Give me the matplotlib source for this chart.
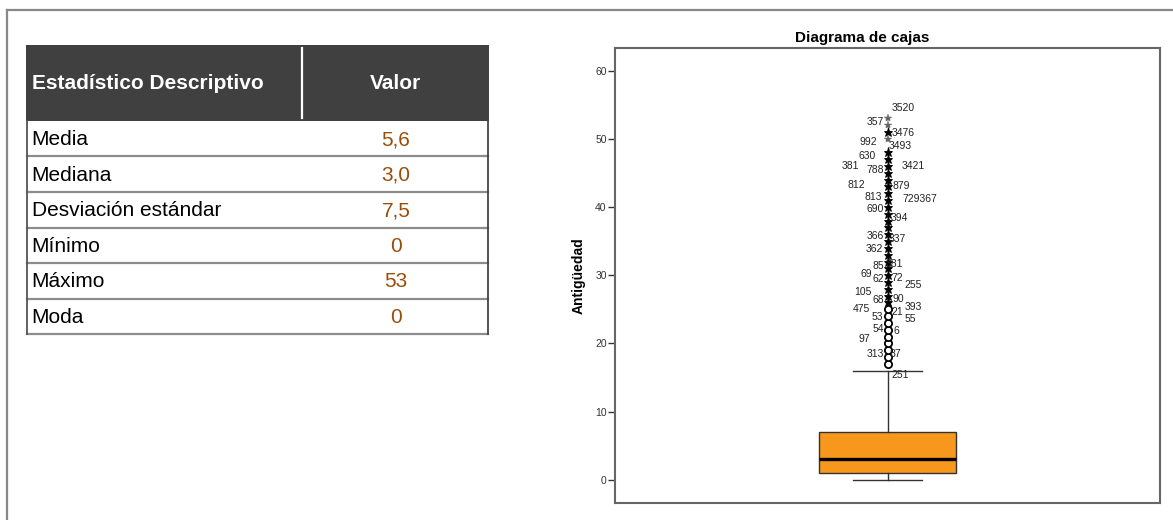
import matplotlib.pyplot as plt

plt.rcParams['font.family'] = ['Liberation Sans', 'DejaVu Sans']

# --- descriptive statistics table ---
header = ["Estadístico Descriptivo", "Valor"]
stat_names = ["Media", "Mediana", "Desviación estándar", "Mínimo", "Máximo", "Moda"]
stat_values = ["5,6", "3,0", "7,5", "0", "53", "0"]

# --- box plot of Antigüedad ---
q1, median, q3 = 1, 3, 7
whisker_low, whisker_high = 0, 16
circle_outliers = [17, 18, 19, 20, 21, 22, 23, 24, 25]
star_outliers = [26, 27, 28, 29, 30, 31, 32, 33, 34, 35, 36, 37, 38, 39, 40,
                 41, 42, 43, 44, 45, 46, 47, 48, 51]
faint_star_outliers = [50, 52, 53]

# case labels next to outliers: text, y value, horizontal offset (pixels)
case_labels = ["3520", "357", "3476", "992", "3493", "630", "381", "788", "3421",
               "812", "879", "813", "729367", "690", "394", "366", "337", "362",
               "85", "381", "69", "62", "72", "255", "105", "68", "90", "393",
               "475", "53", "21", "55", "54", "6", "97", "313", "87", "251"]
case_label_y = [54.5, 52.5, 50.9, 49.5, 49.0, 47.4, 46.0, 45.4, 46.0,
                43.2, 43.0, 41.5, 41.1, 39.7, 38.4, 35.7, 35.3, 33.8,
                31.4, 31.6, 30.1, 29.4, 29.6, 28.6, 27.5, 26.4, 26.5, 25.4,
                25.0, 23.9, 24.6, 23.5, 22.1, 21.8, 20.6, 18.4, 18.4, 15.4]
case_label_dx = [4, -21, 4, -28, 1, -29, -46, -21, 14,
                 -40, 5, -23, 15, -21, 3, -21, 1, -22,
                 -15, -2, -27, -15, 4, 17, -33, -15, 5, 17,
                 -35, -16, 4, 17, -15, 6, -29, -21, 2, 4]

W, H = 1173, 520
fig = plt.figure(figsize=(W / 100, H / 100), dpi=100)

# background canvas in pixel coordinates (frame + table)
bg = fig.add_axes([0, 0, 1, 1])
bg.set_xlim(0, W)
bg.set_ylim(H, 0)
bg.axis("off")

# outer frame
bg.plot([7, W], [10, 10], color="#888888", lw=1.6)
bg.plot([7, 7], [10, H], color="#888888", lw=1.6)

# table geometry
tx0, tx1, tdiv = 26, 489, 302
head_top, head_bot = 45, 120.7
row_h = 35.6

bg.add_patch(plt.Rectangle((tx0, head_top), tx1 - tx0, head_bot - head_top,
                           facecolor="#404040", edgecolor="none"))
bg.plot([tdiv, tdiv], [48, 118], color="white", lw=1.6)
bg.text(31.5, (head_top + head_bot) / 2 + 1, header[0], color="white",
        fontsize=15, fontweight="bold", ha="left", va="center")
bg.text((tdiv + tx1) / 2, (head_top + head_bot) / 2 + 1, header[1], color="white",
        fontsize=15, fontweight="bold", ha="center", va="center")

for i, (name, val) in enumerate(zip(stat_names, stat_values)):
    top = head_bot + i * row_h
    bot = top + row_h
    bg.plot([tx0 + 1, tx1 - 1], [bot, bot], color="#8c8c8c", lw=1.6)
    bg.text(31.5, (top + bot) / 2 + 1, name, color="black", fontsize=15,
            ha="left", va="center")
    bg.text(396, (top + bot) / 2 + 1, val, color="#9a4d0b", fontsize=15,
            ha="center", va="center")

table_bot = head_bot + len(stat_names) * row_h
bg.plot([tx0 + 1, tx0 + 1], [head_bot, table_bot], color="#555555", lw=1.3)
bg.plot([tx1 - 1, tx1 - 1], [head_bot, table_bot], color="#444444", lw=1.3)

# box plot axes
ax = fig.add_axes([615 / W, 1 - 503 / H, 545 / W, 455 / H])
stats = [dict(med=median, q1=q1, q3=q3, whislo=whisker_low,
              whishi=whisker_high, fliers=[])]
ax.bxp(stats, positions=[1], widths=0.25, capwidths=0.127, showfliers=False,
       patch_artist=True,
       boxprops=dict(facecolor="#F7981D", edgecolor="#333333", lw=1),
       medianprops=dict(color="black", lw=2.4),
       whiskerprops=dict(color="#333333", lw=1),
       capprops=dict(color="#333333", lw=1))

ax.plot([1] * len(circle_outliers), circle_outliers, "o", mfc="white",
        mec="black", ms=5.2, mew=1.3, zorder=3)
ax.plot([1] * len(star_outliers), star_outliers, "*", color="black",
        ms=6.8, mew=0.6, zorder=3)
ax.plot([1] * len(faint_star_outliers), faint_star_outliers, "*",
        color="#666666", ms=6.0, mew=0.3, zorder=3)

for txt, yv, dx in zip(case_labels, case_label_y, case_label_dx):
    ax.annotate(txt, xy=(1, yv), xytext=(dx, 0), textcoords="offset pixels",
                ha="left", va="center", fontsize=7.5, color="#222222")

ax.set_xlim(0.5, 1.5)
ax.set_ylim(-3.4, 63.3)
ax.set_xticks([])
ax.set_yticks([0, 10, 20, 30, 40, 50, 60])
ax.tick_params(axis="y", length=5, width=1, color="#333333", pad=1,
               labelsize=7.5, labelcolor="#333333")
for sp in ax.spines.values():
    sp.set_color("#666666")
    sp.set_linewidth(1.5)

fig.text(862.5 / W, 1 - 38 / H, "Diagrama de cajas", ha="center", va="center",
         fontsize=11, fontweight="bold")
fig.text(579 / W, 1 - 276 / H, "Antigüedad", ha="center", va="center",
         rotation=90, fontsize=10, fontweight="bold")

fig.savefig("out.png", dpi=100)
